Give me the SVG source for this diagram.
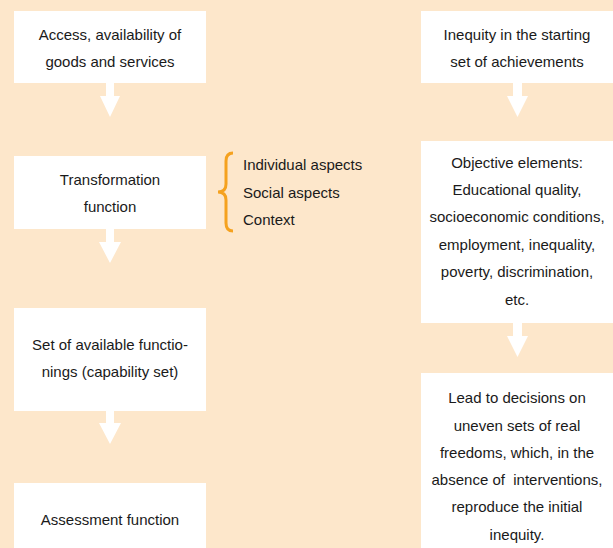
<svg xmlns="http://www.w3.org/2000/svg" width="613" height="548" viewBox="0 0 613 548">
<style>
.box{fill:#ffffff}
.arr{fill:#ffffff}
text{font-family:"Liberation Sans",Arial,sans-serif;font-size:15px;fill:#1a1a1a}
.c{text-anchor:middle}
.pre{white-space:pre}
</style>
<rect x="0" y="0" width="613" height="548" fill="#fde7cb"/>
<g id="connectors">
<polygon class="arr" points="106,83 114,83 114,96 120,96 110,117 100,96 106,96"/>
<polygon class="arr" points="106,229 114,229 114,242 121,242 110,263 99,242 106,242"/>
<polygon class="arr" points="106,411 114,411 114,423 121,423 110,444 99,423 106,423"/>
<polygon class="arr" points="513,83 522,83 522,96 528,96 517.5,117 507,96 513,96"/>
<polygon class="arr" points="513,323 522,323 522,336 528,336 517.5,357 507,336 513,336"/>
</g>
<g id="n1"><rect class="box" x="14" y="11" width="192" height="72"/>
<text class="c" x="110" y="40">Access, availability of</text>
<text class="c" x="110" y="67">goods and services</text></g>
<g id="n2"><rect class="box" x="14" y="156" width="192" height="73"/>
<text class="c" x="110" y="185">Transformation</text>
<text class="c" x="110" y="212">function</text></g>
<g id="n3"><rect class="box" x="14" y="308" width="192" height="103"/>
<text class="c" x="110" y="350">Set of available functio-</text>
<text class="c" x="110" y="377">nings (capability set)</text></g>
<g id="n4"><rect class="box" x="14" y="483" width="192" height="65"/>
<text class="c" x="110" y="525">Assessment function</text></g>
<g id="brace">
<path d="M233,153 Q226,153 226,161 L226,184 Q226,192 218,192 Q226,192 226,200 L226,223 Q226,231 233,231" fill="none" stroke="#f5a21f" stroke-width="3"/>
<text x="243" y="170">Individual aspects</text>
<text x="243" y="198">Social aspects</text>
<text x="243" y="225">Context</text>
</g>
<g id="r1"><rect class="box" x="421" y="11" width="192" height="72"/>
<text class="c" x="517" y="40">Inequity in the starting</text>
<text class="c" x="517" y="67">set of achievements</text></g>
<g id="r2"><rect class="box" x="421" y="141" width="192" height="182"/>
<text class="c" x="517" y="168">Objective elements:</text>
<text class="c" x="517" y="195">Educational quality,</text>
<text class="c" x="517" y="222">socioeconomic conditions,</text>
<text class="c" x="517" y="250">employment, inequality,</text>
<text class="c" x="517" y="277">poverty, discrimination,</text>
<text class="c" x="517" y="305">etc.</text></g>
<g id="r3"><rect class="box" x="421" y="373" width="192" height="175"/>
<text class="c" x="517" y="403">Lead to decisions on</text>
<text class="c" x="517" y="431">uneven sets of real</text>
<text class="c" x="517" y="458">freedoms, which, in the</text>
<text class="c pre" x="517" y="485" xml:space="preserve">absence of  interventions,</text>
<text class="c" x="517" y="512">reproduce the initial</text>
<text class="c" x="517" y="540">inequity.</text></g>
</svg>
